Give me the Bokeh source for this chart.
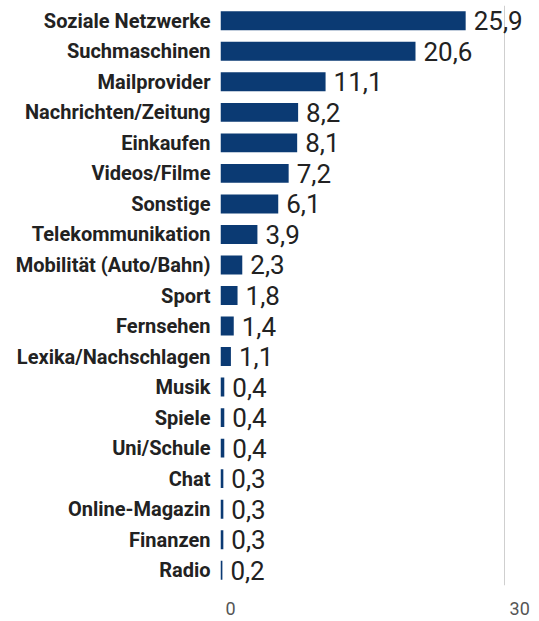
from bokeh.plotting import figure
from bokeh.models import ColumnDataSource, Range1d, FixedTicker, FactorRange
from bokeh.core.properties import value
from bokeh.embed import file_html
from bokeh.resources import INLINE

categories = ["Soziale Netzwerke", "Suchmaschinen", "Mailprovider", "Nachrichten/Zeitung",
              "Einkaufen", "Videos/Filme", "Sonstige", "Telekommunikation",
              "Mobilität (Auto/Bahn)", "Sport", "Fernsehen", "Lexika/Nachschlagen",
              "Musik", "Spiele", "Uni/Schule", "Chat", "Online-Magazin", "Finanzen", "Radio"]
values = [25.9, 20.6, 11.1, 8.2, 8.1, 7.2, 6.1, 3.9, 2.3, 1.8, 1.4, 1.1,
          0.4, 0.4, 0.4, 0.3, 0.3, 0.3, 0.2]
x_ticks = [0, 30]
x_tick_labels = ["0", "30"]

labels = [f"{v:.1f}".replace(".", ",") for v in values]
src = ColumnDataSource(dict(cat=categories, val=values, lab=labels))

FONT = "Roboto"
p = figure(width=539, height=621, output_backend="svg", toolbar_location=None,
           y_range=FactorRange(*reversed(categories), range_padding=0),
           x_range=Range1d(0, 33.7))
p.min_border_left = 220
p.min_border_right = 0
p.min_border_top = 5
p.min_border_bottom = 32
p.outline_line_color = None
p.background_fill_color = "white"

p.hbar(y="cat", right="val", left=0, height=0.62, source=src,
       color="#0b3a73", line_color=None)
p.text(x="val", y="cat", text="lab", source=src, x_offset=8,
       text_font=value(FONT), text_font_size="26px", text_color="#222222",
       text_baseline="middle", text_align="left")

p.xgrid.ticker = FixedTicker(ticks=x_ticks)
p.xgrid.grid_line_color = "#cfcfcf"
p.ygrid.grid_line_color = None

xa = p.xaxis[0]
xa.ticker = FixedTicker(ticks=x_ticks)
xa.axis_line_color = None
xa.major_tick_line_color = None
xa.minor_tick_line_color = None
xa.major_tick_in = 0
xa.major_tick_out = 0
xa.minor_tick_in = 0
xa.minor_tick_out = 0
pads = ["\u2007\u2007", "\u2007\u2007\u2007"]
xa.major_label_overrides = {t: pad + s for t, s, pad in zip(x_ticks, x_tick_labels, pads)}
xa.major_label_text_font = FONT
xa.major_label_text_font_size = "18px"
xa.major_label_text_color = "#555555"
xa.major_label_standoff = 12

ya = p.yaxis[0]
ya.axis_line_color = None
ya.major_tick_line_color = None
ya.minor_tick_line_color = None
ya.major_tick_in = 0
ya.major_tick_out = 0
ya.minor_tick_in = 0
ya.minor_tick_out = 0
ya.major_label_text_font = FONT
ya.major_label_text_font_style = "bold"
ya.major_label_text_font_size = "20px"
ya.major_label_text_color = "#222222"
ya.major_label_standoff = 10

open("out.html", "w").write(file_html(p, INLINE))
